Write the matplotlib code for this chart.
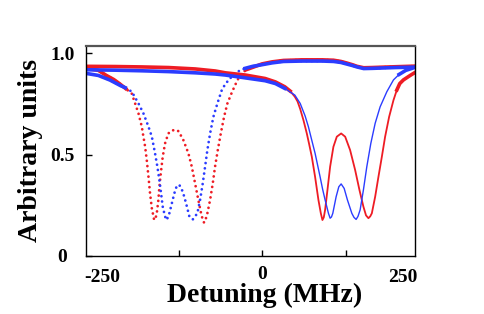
import numpy as np
import matplotlib
matplotlib.use('Agg')
import matplotlib.pyplot as plt

RED = '#ee1c24'
BLUE = '#2b3cff'

# set A (left pair of dips, dotted trace)
a_red_x = [-263, -245, -233, -222, -213.6, -204, -195, -190, -185, -180, -177.6, -175, -172.6, -170,
           -167.7, -165, -161.5, -159.5, -157.6, -155.2, -153.7, -151.6, -148.7, -145.2, -140.3, -135,
           -130, -125, -117.8, -110.3, -105.2, -100.3, -95.4, -91.3, -88.5, -86.8, -84.5, -81.9, -77.8,
           -73.8, -70.4, -66.3, -61.8, -56.9, -51.9, -45.4, -40, -35.5, -30, -24, -9, 0, 15, 32, 60, 90,
           107, 118, 127, 135, 142, 152, 165, 182, 200, 229]
a_red_y = [0.925, 0.915, 0.89, 0.87, 0.85, 0.825, 0.80, 0.752, 0.703, 0.637, 0.588, 0.538, 0.473, 0.39,
           0.309, 0.235, 0.177, 0.185, 0.21, 0.276, 0.341, 0.407, 0.489, 0.555, 0.604, 0.618,
           0.622, 0.615, 0.571, 0.506, 0.44, 0.358, 0.276, 0.21, 0.175, 0.164, 0.18, 0.21, 0.276,
           0.358, 0.44, 0.522, 0.604, 0.686, 0.752, 0.805, 0.845, 0.875, 0.90, 0.918, 0.936, 0.947, 0.957,
           0.964, 0.967, 0.967, 0.965, 0.959, 0.951, 0.943, 0.935, 0.928, 0.929, 0.931, 0.933, 0.936]

a_blue_x = [-263, -245, -227.5, -212, -205, -195, -185, -177.6, -170, -165, -160.2, -156.7, -153.7,
            -151.2, -148.7, -145.2, -142.7, -138.8, -135, -131.3, -127.7, -123.8, -118.7, -113.8,
            -108.8, -103.7, -96.9, -92.8, -88.8, -85.3, -81.9, -77.8, -72.9, -66.9, -60.3, -55, -48,
            -40.4, -33, -25.4, -14, 0, 15, 32, 60, 90, 107, 118, 127, 135, 142, 152, 165, 182, 200, 229]
a_blue_y = [0.90, 0.89, 0.867, 0.84, 0.83, 0.81, 0.752, 0.703, 0.637, 0.588, 0.506, 0.44, 0.374,
            0.309, 0.243, 0.194, 0.177, 0.21, 0.26, 0.309, 0.345, 0.35, 0.317, 0.26,
            0.194, 0.18, 0.21, 0.276, 0.358, 0.44, 0.522, 0.604, 0.686, 0.752, 0.818, 0.848, 0.875,
            0.90, 0.915, 0.925, 0.935, 0.943, 0.952, 0.959, 0.961, 0.961, 0.959, 0.954, 0.946, 0.939,
            0.932, 0.924, 0.925, 0.927, 0.929, 0.931]

# set B (right pair of dips, dense trace)
b_red_x = [-263, -220, -180, -140, -100, -70, -55, -25, 4.5, 20, 34, 42, 49, 53, 57, 62, 66.9, 70.5,
           74.4, 79.3, 84.3, 87.9, 90.3, 92.3, 94.3, 97.8, 101.8, 106.7, 111.8, 118.3, 124.3, 131.7,
           139.2, 145.7, 151.6, 155.5, 159.1, 161.8, 164.2, 169.2, 174.1, 179.2, 184.1, 190.1, 196.6,
           201.6, 206, 211.5, 221.6, 229]
b_red_y = [0.935, 0.934, 0.932, 0.929, 0.922, 0.912, 0.903, 0.892, 0.875, 0.858, 0.834, 0.813, 0.785,
           0.762, 0.725, 0.668, 0.604, 0.55, 0.489, 0.39, 0.276, 0.21, 0.177, 0.19, 0.227, 0.325, 0.44,
           0.538, 0.588, 0.604, 0.588, 0.522, 0.424, 0.325, 0.243, 0.20, 0.186, 0.195, 0.21, 0.292,
           0.39, 0.489, 0.588, 0.686, 0.768, 0.818, 0.85, 0.868, 0.89, 0.905]

b_blue_x = [-263, -220, -180, -140, -100, -70, -55, -25, 4.5, 20, 34, 49, 57, 64.4, 69.3, 74, 79.3,
            86.8, 90.5, 94.3, 99.3, 101.8, 103.8, 105.8, 110.8, 114.8, 118.3, 122.8, 127.7, 134.3,
            137.5, 140.7, 143.5, 146.7, 151.6, 156.7, 162.7, 169.2, 176.6, 186.7, 196.6, 205, 215, 229]
b_blue_y = [0.918, 0.916, 0.913, 0.909, 0.903, 0.897, 0.892, 0.878, 0.864, 0.85, 0.826, 0.793, 0.752,
            0.69, 0.637, 0.575, 0.506, 0.39, 0.33, 0.276, 0.21, 0.186, 0.192, 0.21, 0.292, 0.341,
            0.355, 0.333, 0.276, 0.21, 0.19, 0.18, 0.195, 0.227, 0.325, 0.44, 0.555, 0.654, 0.735,
            0.81, 0.868, 0.895, 0.915, 0.93]

plt.rcParams['font.family'] = ['Liberation Serif', 'DejaVu Serif']
plt.rcParams['font.weight'] = 'bold'

fig = plt.figure(figsize=(4.84, 3.14), dpi=100)
ax = fig.add_axes([0.1777, 0.185, 0.680, 0.669])


def thick_part(x, y, lo, hi):
    x = np.array(x)
    y = np.array(y, dtype=float)
    y[(x > lo) & (x < hi)] = np.nan
    return x, y


# set A: dotted in the dips, thick noisy band elsewhere
for xs, ys, c in [(a_red_x, a_red_y, RED), (a_blue_x, a_blue_y, BLUE)]:
    ax.plot(xs, ys, color=c, lw=2.0, dashes=[0.01, 1.9], dash_capstyle='round')
    tx, ty = thick_part(xs, ys, -200, -28)
    ax.plot(tx, ty, color=c, lw=2.6)

# set B: thin line in the dips, thick band elsewhere
for xs, ys, c, w in [(b_red_x, b_red_y, RED, 1.3), (b_blue_x, b_blue_y, BLUE, 1.0)]:
    ax.plot(xs, ys, color=c, lw=w)
    tx, ty = thick_part(xs, ys, 45, 200)
    ax.plot(tx, ty, color=c, lw=2.6)

ax.set_xlim(-263.5, 229)
ax.set_ylim(0, 1.036)

ax.set_xticks([-125, 0, 125])
ax.set_xticklabels(['', '0', ''])
ax.set_yticks([0, 0.5, 1.0])
ax.set_yticklabels(['0', '0.5', '1.0'])
ax.tick_params(direction='in', length=4, width=1, labelsize=14)
ax.tick_params(axis='x', pad=7)
ax.tick_params(axis='y', pad=17)
for lbl in ax.get_yticklabels():
    lbl.set_horizontalalignment('center')

ax.text(0.049, -0.122, '-250', transform=ax.transAxes, ha='center', va='baseline',
        fontsize=14, fontweight='bold')
ax.text(0.963, -0.122, '250', transform=ax.transAxes, ha='center', va='baseline',
        fontsize=14, fontweight='bold')

ax.set_xlabel('Detuning (MHz)', fontsize=20, fontweight='bold')
ax.set_ylabel('Arbitrary units', fontsize=20, fontweight='bold')
ax.xaxis.set_label_coords(0.544, -0.13)
ax.yaxis.set_label_coords(-0.13, 0.5)

for side in ['left', 'bottom', 'right']:
    ax.spines[side].set_linewidth(1.0)
    ax.spines[side].set_color('black')
ax.spines['top'].set_color('#555555')
ax.spines['top'].set_linewidth(1.6)

fig.savefig('out.png', dpi=100)
